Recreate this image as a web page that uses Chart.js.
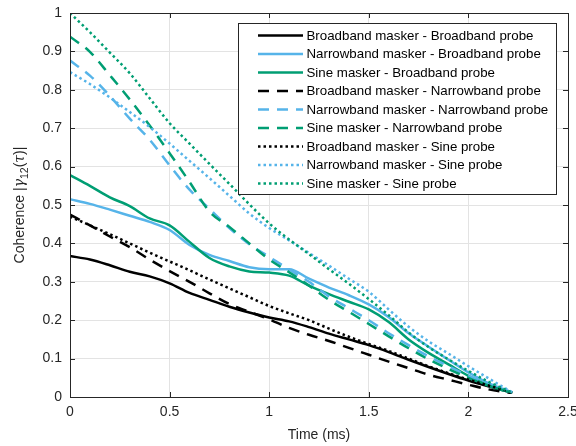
<!DOCTYPE html>
<html>
<head>
<meta charset="utf-8">
<script src="https://cdn.jsdelivr.net/npm/chart.js@4.4.1/dist/chart.umd.min.js"></script>
<style>
  html, body { margin: 0; padding: 0; background: #fff; }
  #wrap { width: 576px; height: 446px; }
</style>
</head>
<body>
<div id="wrap"><canvas id="chart" width="576" height="446"></canvas></div>
<script>
// time axis (ms)
const times = [0, 0.1, 0.2, 0.3, 0.4, 0.5, 0.6, 0.7, 0.8, 0.9, 1.0, 1.1, 1.2, 1.3, 1.4, 1.5, 1.6, 1.7, 1.8, 1.9, 2.0, 2.1, 2.2, 2.22];

// broadband probe
const bbMaskerBbProbe = [0.367, 0.358, 0.343, 0.326, 0.314, 0.296, 0.271, 0.253, 0.235, 0.220, 0.207, 0.197, 0.182, 0.165, 0.150, 0.135, 0.117, 0.097, 0.078, 0.060, 0.043, 0.028, 0.014, 0.011];
const nbMaskerBbProbe = [0.515, 0.503, 0.488, 0.472, 0.456, 0.435, 0.396, 0.370, 0.354, 0.338, 0.333, 0.333, 0.308, 0.285, 0.265, 0.241, 0.208, 0.166, 0.131, 0.097, 0.064, 0.036, 0.016, 0.012];
const sineMaskerBbProbe = [0.578, 0.550, 0.520, 0.497, 0.465, 0.447, 0.404, 0.362, 0.340, 0.327, 0.324, 0.316, 0.290, 0.268, 0.248, 0.228, 0.195, 0.150, 0.115, 0.085, 0.055, 0.030, 0.014, 0.012];
// narrowband probe
const bbMaskerNbProbe = [0.475, 0.447, 0.418, 0.390, 0.358, 0.328, 0.300, 0.270, 0.242, 0.222, 0.202, 0.180, 0.162, 0.146, 0.128, 0.110, 0.092, 0.075, 0.058, 0.045, 0.032, 0.020, 0.012, 0.011];
const nbMaskerNbProbe = [0.876, 0.837, 0.784, 0.725, 0.670, 0.603, 0.540, 0.490, 0.440, 0.398, 0.365, 0.332, 0.300, 0.262, 0.231, 0.200, 0.166, 0.135, 0.106, 0.080, 0.055, 0.032, 0.015, 0.012];
const sineMaskerNbProbe = [0.938, 0.899, 0.838, 0.775, 0.707, 0.635, 0.560, 0.483, 0.443, 0.400, 0.358, 0.325, 0.290, 0.253, 0.222, 0.190, 0.158, 0.127, 0.098, 0.073, 0.050, 0.030, 0.014, 0.012];
// sine probe
const bbMaskerSineProbe = [0.470, 0.447, 0.424, 0.400, 0.376, 0.353, 0.330, 0.306, 0.283, 0.260, 0.237, 0.218, 0.200, 0.178, 0.157, 0.138, 0.120, 0.100, 0.080, 0.062, 0.045, 0.030, 0.015, 0.011];
const nbMaskerSineProbe = [0.846, 0.815, 0.780, 0.742, 0.703, 0.660, 0.615, 0.570, 0.524, 0.478, 0.440, 0.408, 0.375, 0.342, 0.308, 0.274, 0.228, 0.183, 0.145, 0.113, 0.080, 0.049, 0.018, 0.012];
const sineMaskerSineProbe = [1.000, 0.950, 0.897, 0.843, 0.778, 0.713, 0.660, 0.607, 0.555, 0.502, 0.452, 0.410, 0.372, 0.333, 0.295, 0.255, 0.213, 0.168, 0.130, 0.098, 0.068, 0.040, 0.016, 0.012];

const seriesLabels = [
    'Broadband masker - Broadband probe',
    'Narrowband masker - Broadband probe',
    'Sine masker - Broadband probe',
    'Broadband masker - Narrowband probe',
    'Narrowband masker - Narrowband probe',
    'Sine masker - Narrowband probe',
    'Broadband masker - Sine probe',
    'Narrowband masker - Sine probe',
    'Sine masker - Sine probe'
];
const seriesValues = [
    bbMaskerBbProbe, nbMaskerBbProbe, sineMaskerBbProbe,
    bbMaskerNbProbe, nbMaskerNbProbe, sineMaskerNbProbe,
    bbMaskerSineProbe, nbMaskerSineProbe, sineMaskerSineProbe
];

const xTicks = [0, 0.5, 1, 1.5, 2, 2.5];
const xTickLabels = ['0', '0.5', '1', '1.5', '2', '2.5'];
const yTicks = [0, 0.1, 0.2, 0.3, 0.4, 0.5, 0.6, 0.7, 0.8, 0.9, 1];
const yTickLabels = ['0', '0.1', '0.2', '0.3', '0.4', '0.5', '0.6', '0.7', '0.8', '0.9', '1'];

const colors = ['#000000', '#56B4E9', '#009E73'];
const dashes = [[], [11, 8], [2.5, 3]];
const axisColor = '#262626';
const font = '"Liberation Sans", Arial, sans-serif';

const datasets = seriesValues.map((vals, i) => ({
    label: seriesLabels[i],
    data: times.map((t, k) => ({ x: t, y: vals[k] })),
    borderColor: colors[i % 3],
    borderDash: dashes[Math.floor(i / 3)],
    borderWidth: 2.5,
    pointRadius: 0,
    fill: false,
    cubicInterpolationMode: 'monotone',
    order: -i
}));

// box, inward ticks, y title with subscript, boxed legend
const decorPlugin = {
    id: 'decor',
    afterDatasetsDraw(chart) {
        const ctx = chart.ctx;
        const a = chart.chartArea;
        const xs = chart.scales.x, ys = chart.scales.y;
        ctx.save();
        ctx.strokeStyle = axisColor;
        ctx.lineWidth = 1;
        ctx.strokeRect(Math.round(a.left) + 0.5, Math.round(a.top) + 0.5, Math.round(a.right - a.left), Math.round(a.bottom - a.top));
        const tl = 5;
        ctx.beginPath();
        xTicks.forEach(v => {
            const px = Math.round(xs.getPixelForValue(v)) + 0.5;
            ctx.moveTo(px, a.bottom); ctx.lineTo(px, a.bottom - tl);
            ctx.moveTo(px, a.top); ctx.lineTo(px, a.top + tl);
        });
        yTicks.forEach(v => {
            const py = Math.round(ys.getPixelForValue(v)) + 0.5;
            ctx.moveTo(a.left, py); ctx.lineTo(a.left + tl, py);
            ctx.moveTo(a.right, py); ctx.lineTo(a.right - tl, py);
        });
        ctx.stroke();

        // legend
        const lx = 238, ly = 23, lw = 318, lh = 171;
        ctx.fillStyle = '#fff';
        ctx.fillRect(lx, ly, lw, lh);
        ctx.strokeStyle = axisColor;
        ctx.strokeRect(lx + 0.5, ly + 0.5, lw, lh);
        ctx.font = '13.3px ' + font;
        ctx.textBaseline = 'middle';
        chart.data.datasets.forEach((ds, i) => {
            const y = 35.5 + i * 18.5;
            ctx.beginPath();
            ctx.strokeStyle = ds.borderColor;
            ctx.lineWidth = 2.5;
            ctx.setLineDash(ds.borderDash);
            ctx.moveTo(258, y); ctx.lineTo(303, y);
            ctx.stroke();
            ctx.setLineDash([]);
            ctx.fillStyle = '#000';
            ctx.fillText(ds.label, 306.5, y + 0.5);
        });

        // y title
        ctx.translate(19, (a.top + a.bottom) / 2);
        ctx.rotate(-Math.PI / 2);
        ctx.fillStyle = axisColor;
        ctx.textBaseline = 'alphabetic';
        const parts = [
            { t: 'Coherence |', f: '14px ' + font, dy: 0 },
            { t: '\u03B3', f: 'italic 14px "DejaVu Serif", serif', dy: 0 },
            { t: '12', f: '10.5px ' + font, dy: 3.5 },
            { t: '(', f: '14px ' + font, dy: 0 },
            { t: '\u03C4', f: 'italic 14px "DejaVu Serif", serif', dy: 0 },
            { t: ')|', f: '14px ' + font, dy: 0 }
        ];
        let total = 0;
        parts.forEach(p => { ctx.font = p.f; p.w = ctx.measureText(p.t).width; total += p.w; });
        let x = -total / 2;
        parts.forEach(p => {
            ctx.font = p.f;
            ctx.fillText(p.t, x, 5 + p.dy);
            x += p.w;
        });
        ctx.restore();
    }
};

new Chart(document.getElementById('chart').getContext('2d'), {
    type: 'line',
    data: { datasets },
    options: {
        responsive: false,
        animation: false,
        layout: { padding: { top: 13, right: 8, left: 0, bottom: 0 } },
        plugins: { legend: { display: false }, tooltip: { enabled: false } },
        scales: {
            x: {
                type: 'linear',
                min: 0, max: 2.5,
                afterBuildTicks: s => { s.ticks = xTicks.map(v => ({ value: v })); },
                afterFit: s => { s.height = 49; s.paddingLeft = 0; s.paddingRight = 0; },
                ticks: {
                    autoSkip: false, maxRotation: 0, padding: 7,
                    color: axisColor, font: { family: font, size: 14 },
                    callback: (v, i) => xTickLabels[i]
                },
                grid: { color: '#e3e3e3', drawTicks: false },
                border: { color: axisColor },
                title: {
                    display: true, text: 'Time (ms)', color: axisColor,
                    font: { family: font, size: 14 }, padding: { top: 0, bottom: 2 }
                }
            },
            y: {
                min: 0, max: 1,
                afterBuildTicks: s => { s.ticks = yTicks.map(v => ({ value: v })); },
                afterFit: s => { s.width = 70; s.paddingTop = 0; s.paddingBottom = 0; },
                ticks: {
                    autoSkip: false, padding: 8,
                    color: axisColor, font: { family: font, size: 14 },
                    callback: (v, i) => yTickLabels[i]
                },
                grid: { color: '#e3e3e3', drawTicks: false },
                border: { color: axisColor }
            }
        }
    },
    plugins: [decorPlugin]
});
</script>
</body>
</html>
